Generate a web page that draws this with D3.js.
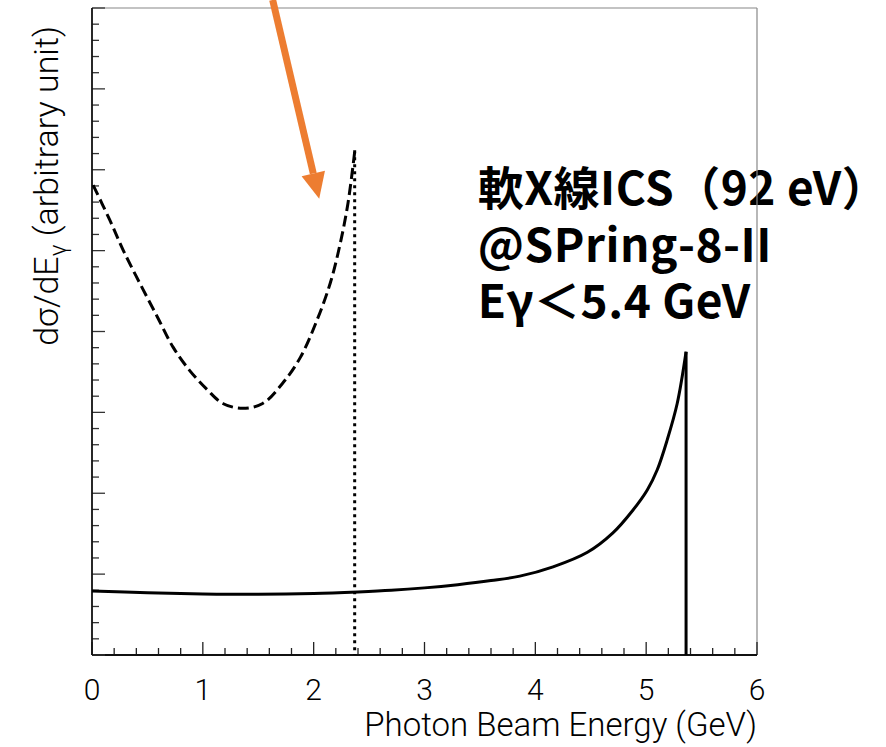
<!DOCTYPE html>
<html>
<head>
<meta charset="utf-8">
<script src="https://cdn.jsdelivr.net/npm/d3@7"></script>
<style>
  html, body { margin: 0; padding: 0; background: #fff; }
  svg { display: block; }
</style>
</head>
<body>
<div id="chart"></div>
<script>
// photon energy (GeV) and dσ/dE (arbitrary)
const solidEnergy = [0, 0.5, 1.0, 1.5, 2.0, 2.4, 2.7, 3.0, 3.3, 3.6, 3.86, 4.16, 4.47, 4.70, 4.88, 5.01, 5.10, 5.19, 5.28, 5.36];
const solidValue  = [0.79, 0.77, 0.755, 0.75, 0.76, 0.78, 0.80, 0.83, 0.87, 0.92, 0.975, 1.09, 1.27, 1.51, 1.79, 2.04, 2.29, 2.66, 3.11, 3.75];

const dashedEnergy = [0.01, 0.16, 0.28, 0.43, 0.59, 0.73, 0.88, 1.04, 1.18, 1.36, 1.54, 1.72, 1.88, 2.03, 2.15, 2.24, 2.31, 2.37];
const dashedValue  = [5.81, 5.38, 5.01, 4.60, 4.18, 3.81, 3.52, 3.28, 3.11, 3.05, 3.11, 3.36, 3.68, 4.14, 4.60, 5.09, 5.59, 6.22];

// Compton edges (vertical drop lines)
const edgeEnergy = [2.37, 5.36];
const edgeTop    = [6.24, 3.75];

const xTicks = [0, 1, 2, 3, 4, 5, 6];

const noteLines = ["軟X線ICS（92 eV）", "@SPring-8-II", "Eγ＜5.4 GeV"];
// arrow annotation, in data units: [energy, value]
const arrowFrom = [1.63, 8.1];
const arrowTo   = [2.05, 5.64];

const W = 886, H = 747;
const margin = { top: 8, right: 129, bottom: 92, left: 92 };
const innerW = W - margin.left - margin.right;
const innerH = H - margin.top - margin.bottom;

const svg = d3.select("#chart").append("svg")
  .attr("width", W).attr("height", H);

const g = svg.append("g")
  .attr("transform", `translate(${margin.left},${margin.top})`);

const x = d3.scaleLinear().domain([0, 6]).range([0, innerW]);
const y = d3.scaleLinear().domain([0, 8]).range([innerH, 0]);

const labelFont = "Roboto, 'Liberation Sans', sans-serif";

// text block (sits under the frame line like in the original)
const note = g.append("text")
  .attr("x", x(3.48))
  .attr("y", y(5.56))
  .attr("font-family", "'Noto Sans CJK JP', sans-serif")
  .attr("font-weight", 700)
  .attr("font-size", 46)
  .attr("letter-spacing", 0.5)
  .attr("fill", "#000");
noteLines.forEach((t, i) => {
  note.append("tspan").attr("x", x(3.48)).attr("dy", i === 0 ? 0 : 56.5).text(t);
});

// frame (top & right are lighter)
g.append("line").attr("x1", 0).attr("x2", innerW).attr("y1", 0).attr("y2", 0)
  .attr("stroke", "#888").attr("stroke-width", 1.2);
g.append("line").attr("x1", innerW).attr("x2", innerW).attr("y1", 0).attr("y2", innerH)
  .attr("stroke", "#888").attr("stroke-width", 1.2);

// x axis ticks (inward)
const xMinor = d3.range(0, 6.001, 0.2);
g.append("g").selectAll("line").data(xMinor).enter().append("line")
  .attr("x1", (d) => x(d)).attr("x2", (d) => x(d))
  .attr("y1", innerH)
  .attr("y2", (d) => innerH - (Math.abs(d - Math.round(d)) < 1e-6 ? 13 : 7))
  .attr("stroke", "#222").attr("stroke-width", 1.3);

g.append("line").attr("x1", 0).attr("x2", innerW).attr("y1", innerH).attr("y2", innerH)
  .attr("stroke", "#111").attr("stroke-width", 1.8);

g.append("g").selectAll("text").data(xTicks).enter().append("text")
  .attr("x", (d) => x(d))
  .attr("y", innerH + 45)
  .attr("text-anchor", "middle")
  .attr("font-family", labelFont)
  .attr("font-weight", 300)
  .attr("font-size", 30)
  .attr("fill", "#000")
  .text((d) => d);

g.append("text")
  .attr("x", innerW)
  .attr("y", innerH + 81)
  .attr("text-anchor", "end")
  .attr("font-family", labelFont)
  .attr("font-weight", 300)
  .attr("font-size", 33)
  .attr("fill", "#000")
  .text("Photon Beam Energy (GeV)");

// y axis ticks (inward, no labels)
const yMinor = d3.range(0, 8.001, 0.2);
g.append("g").selectAll("line").data(yMinor).enter().append("line")
  .attr("x1", 0)
  .attr("x2", (d) => (Math.abs(d - Math.round(d)) < 1e-6 ? 13 : 7))
  .attr("y1", (d) => y(d)).attr("y2", (d) => y(d))
  .attr("stroke", "#333").attr("stroke-width", 1.3);

g.append("line").attr("x1", 0).attr("x2", 0).attr("y1", 0).attr("y2", innerH)
  .attr("stroke", "#111").attr("stroke-width", 1.8);

const yLab = svg.append("text")
  .attr("transform", `translate(58,${margin.top + y(5.8)}) rotate(-90)`)
  .attr("text-anchor", "middle")
  .attr("font-family", labelFont)
  .attr("font-weight", 300)
  .attr("font-size", 34)
  .attr("fill", "#000");
yLab.append("tspan").text("dσ/dE");
yLab.append("tspan").attr("font-size", 24).attr("dy", 8).text("γ");
yLab.append("tspan").attr("dy", -8).text(" (arbitrary unit)");

// curves
const line = d3.line()
  .x((d) => x(d[0]))
  .y((d) => y(d[1]))
  .curve(d3.curveCatmullRom.alpha(0.5));

const solid = solidEnergy.map((e, i) => [e, solidValue[i]]);
const dashed = dashedEnergy.map((e, i) => [e, dashedValue[i]]);

g.append("path").datum(dashed)
  .attr("d", line)
  .attr("fill", "none")
  .attr("stroke", "#000")
  .attr("stroke-width", 3)
  .attr("stroke-dasharray", "11,5");

g.append("path").datum(solid)
  .attr("d", line)
  .attr("fill", "none")
  .attr("stroke", "#000")
  .attr("stroke-width", 3);

// edge drops: first dotted, second solid
g.append("line")
  .attr("x1", x(edgeEnergy[0])).attr("x2", x(edgeEnergy[0]))
  .attr("y1", y(edgeTop[0])).attr("y2", y(0))
  .attr("stroke", "#000").attr("stroke-width", 3)
  .attr("stroke-dasharray", "3,4");

g.append("line")
  .attr("x1", x(edgeEnergy[1])).attr("x2", x(edgeEnergy[1]))
  .attr("y1", y(edgeTop[1])).attr("y2", y(0))
  .attr("stroke", "#000").attr("stroke-width", 3);

// orange arrow
const ax0 = x(arrowFrom[0]), ay0 = y(arrowFrom[1]);
const ax1 = x(arrowTo[0]), ay1 = y(arrowTo[1]);
const ang = Math.atan2(ay1 - ay0, ax1 - ax0);
const headLen = 26, headHalf = 12;
const bx = ax1 - headLen * Math.cos(ang), by = ay1 - headLen * Math.sin(ang);
g.append("line")
  .attr("x1", ax0).attr("y1", ay0).attr("x2", bx).attr("y2", by)
  .attr("stroke", "#ED7D31").attr("stroke-width", 7);
g.append("path")
  .attr("d", `M${ax1},${ay1}L${bx - headHalf * Math.sin(ang)},${by + headHalf * Math.cos(ang)}L${bx + headHalf * Math.sin(ang)},${by - headHalf * Math.cos(ang)}Z`)
  .attr("fill", "#ED7D31");
</script>
</body>
</html>
